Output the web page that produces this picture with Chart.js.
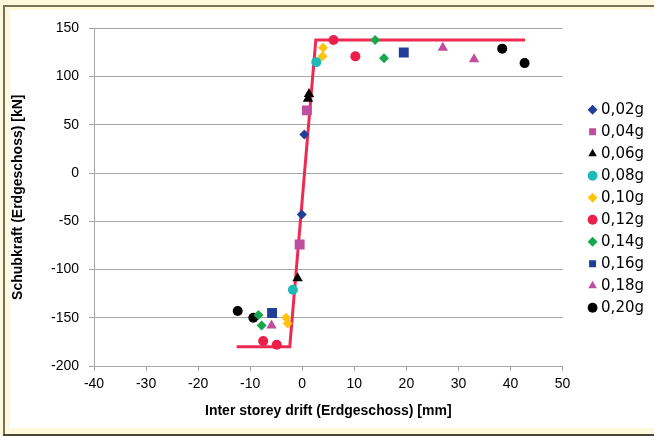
<!DOCTYPE html>
<html>
<head>
<meta charset="utf-8">
<script src="https://cdn.jsdelivr.net/npm/chart.js@4.4.1/dist/chart.umd.min.js"></script>
<style>
  html, body { margin: 0; padding: 0; }
  body { width: 654px; height: 436px; background: #fff9dc; position: relative; overflow: hidden; }
  .frameTop { position: absolute; left: 3px; top: 5px; right: 0; height: 2px; background: #77705f; }
  .frameLeft { position: absolute; left: 3px; top: 5px; width: 2px; bottom: 0; background: #77705f; }
  .frameBottom { position: absolute; left: 3px; bottom: 0; right: 0; height: 2px; background: #4a463c; }
  #box { position: absolute; left: 10px; top: 10px; width: 644px; height: 418px; background: #fff; }
</style>
</head>
<body>
<div class="frameTop"></div>
<div class="frameLeft"></div>
<div class="frameBottom"></div>
<div id="box"><canvas id="schubChart" width="644" height="418"></canvas></div>
<script>
// drift [mm] / shear [kN] pairs per PGA level
const levels = ['0,02g', '0,04g', '0,06g', '0,08g', '0,10g', '0,12g', '0,14g', '0,16g', '0,18g', '0,20g'];
const driftValues = [
  [0.4, -0.1],
  [0.9, -0.5],
  [1.3, 1.1, -0.9],
  [2.7, -1.8],
  [4.0, 3.9, -3.1, -2.8],
  [6.0, 10.2, -7.5, -4.9],
  [14.0, 15.7, -8.4, -7.8],
  [19.5, -5.8],
  [27.0, 33.0, -5.9],
  [38.4, 42.7, -12.4, -9.4]
];
const shearValues = [
  [40, -43],
  [65, -74],
  [82, 77, -109],
  [115, -121],
  [130, 121, -150, -156],
  [138, 121, -174, -178],
  [138, 119, -147, -158],
  [125, -145],
  [130, 118, -158],
  [129, 114, -143, -150]
];
// bilinear envelope
const envelopeDrift = [-12.6, -2.4, 2.6, 42.8];
const envelopeShear = [-180, -180, 138, 138];

const markerColors = ['#213f98', '#c04e9f', '#000000', '#1fb9b6', '#ffc20e', '#ec1f4b', '#15a84c', '#213f98', '#c04e9f', '#000000'];
const markerStyles = ['rectRot', 'rect', 'triangle', 'circle', 'rectRot', 'circle', 'rectRot', 'rect', 'triangle', 'circle'];
const markerSizes = [5, 7, 6, 5, 5, 5, 5, 7, 6, 5];

function pairUp(xs, ys) {
    return xs.map(function(x, i) { return { x: x, y: ys[i] }; });
}

const datasets = levels.map(function(label, i) {
    return {
        label: label,
        data: pairUp(driftValues[i], shearValues[i]),
        pointStyle: markerStyles[i],
        pointRadius: markerSizes[i],
        pointHoverRadius: markerSizes[i],
        backgroundColor: markerColors[i],
        borderColor: markerColors[i],
        borderWidth: 0,
        showLine: false,
        order: i
    };
});

datasets.push({
    label: 'envelope',
    data: pairUp(envelopeDrift, envelopeShear),
    showLine: true,
    borderColor: '#ee2a52',
    borderWidth: 3,
    pointRadius: 0,
    fill: false,
    order: 20
});

const gridGray = '#a6a6a6';
const fontName = "'Liberation Sans', Arial, sans-serif";

new Chart(document.getElementById('schubChart').getContext('2d'), {
    type: 'scatter',
    data: { datasets: datasets },
    options: {
        responsive: false,
        animation: false,
        layout: { padding: { left: 0, right: 0, top: 17, bottom: 0 } },
        plugins: {
            tooltip: { enabled: false },
            legend: {
                position: 'right',
                align: 'start',
                title: { display: true, text: ' ', padding: { top: 61, bottom: 0 }, font: { size: 6 } },
                labels: {
                    filter: function(item) { return item.datasetIndex < levels.length; },
                    usePointStyle: true,
                    boxWidth: 2,
                    boxHeight: 7,
                    padding: 7,
                    color: '#000',
                    font: { family: "'DejaVu Sans', sans-serif", size: 15 }
                }
            }
        },
        scales: {
            x: {
                type: 'linear',
                min: -40,
                max: 50,
                afterFit: function(s) { s.height = 62; },
                ticks: { stepSize: 10, color: '#000', padding: 5, font: { family: fontName, size: 14 } },
                grid: { drawOnChartArea: false, drawTicks: true, tickLength: 5, color: gridGray },
                border: { color: gridGray },
                title: {
                    display: true,
                    text: 'Inter storey drift (Erdgeschoss) [mm]',
                    color: '#000',
                    padding: { top: 2, bottom: 8 },
                    font: { family: fontName, size: 14, weight: 'bold' }
                }
            },
            y: {
                type: 'linear',
                min: -200,
                max: 150,
                afterFit: function(s) { s.width = 84; },
                ticks: { stepSize: 50, color: '#000', padding: 10, font: { family: fontName, size: 14 } },
                grid: { color: gridGray, tickLength: 5 },
                border: { color: gridGray },
                title: {
                    display: true,
                    text: 'Schubkraft (Erdgeschoss) [kN]',
                    color: '#000',
                    padding: { top: 0, bottom: 0 },
                    font: { family: fontName, size: 14, weight: 'bold' }
                }
            },
            // empty spacer between plot and legend
            gap: {
                type: 'linear',
                position: 'right',
                display: true,
                afterFit: function(s) { s.width = 22; },
                ticks: { display: false },
                grid: { display: false },
                border: { display: false }
            }
        }
    }
});
</script>
</body>
</html>
